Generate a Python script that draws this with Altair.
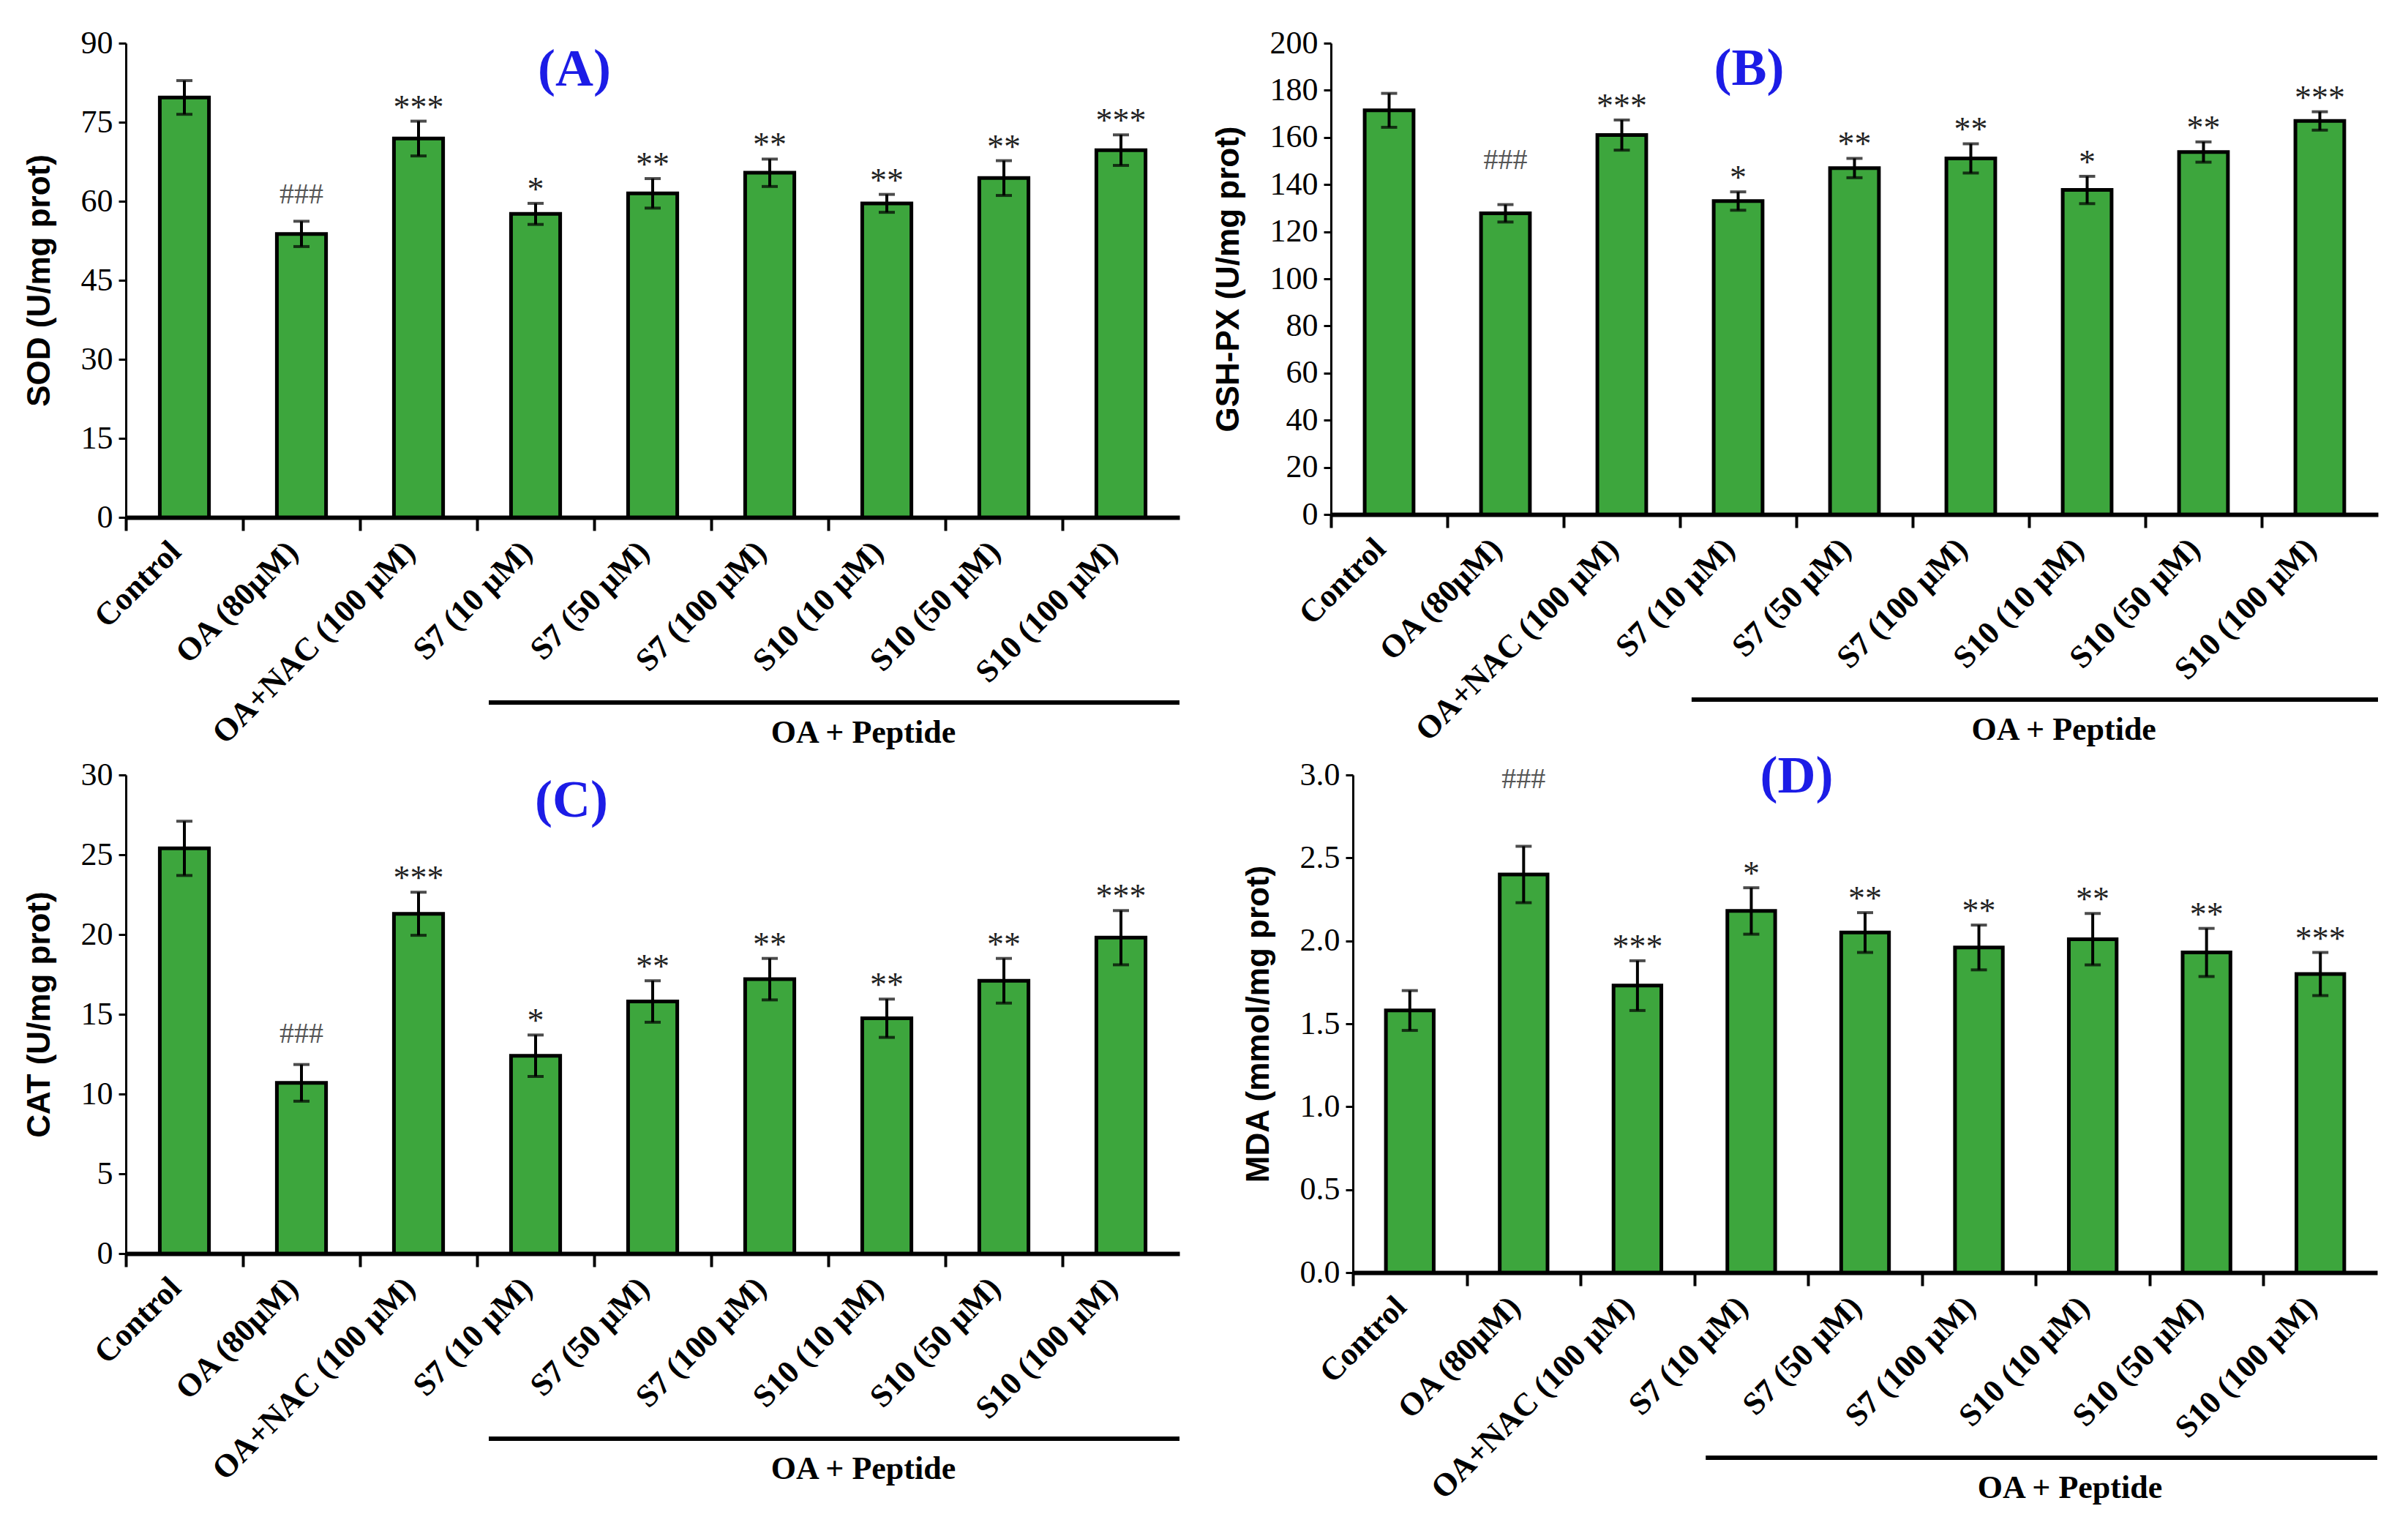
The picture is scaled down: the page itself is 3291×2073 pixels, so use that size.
import altair as alt
import pandas as pd

groups = ["Control", "OA (80µM)", "OA+NAC (100 µM)", "S7 (10 µM)", "S7 (50 µM)",
          "S7 (100 µM)", "S10 (10 µM)", "S10 (50 µM)", "S10 (100 µM)"]

sod = [79.7, 53.8, 71.9, 57.6, 61.5, 65.4, 59.6, 64.4, 69.7]
sod_err = [3.2, 2.4, 3.3, 2.0, 2.8, 2.6, 1.7, 3.3, 2.9]
sod_sig = ["", "###", "***", "*", "**", "**", "**", "**", "***"]

gsh = [171.5, 127.8, 161.0, 133.0, 147.0, 151.1, 137.7, 153.8, 167.0]
gsh_err = [7.2, 3.7, 6.4, 3.9, 4.1, 6.2, 5.8, 4.3, 3.9]
gsh_sig = ["", "###", "***", "*", "**", "**", "*", "**", "***"]

cat = [25.4, 10.7, 21.3, 12.4, 15.8, 17.2, 14.75, 17.1, 19.8]
cat_err = [1.7, 1.15, 1.35, 1.3, 1.3, 1.3, 1.2, 1.4, 1.7]
cat_sig = ["", "###", "***", "*", "**", "**", "**", "**", "***"]

mda = [1.58, 2.40, 1.73, 2.18, 2.05, 1.96, 2.01, 1.93, 1.80]
mda_err = [0.12, 0.17, 0.15, 0.14, 0.12, 0.135, 0.155, 0.145, 0.13]
mda_sig = ["", "###", "***", "*", "**", "**", "**", "**", "***"]

GREEN = "#3da63d"
SERIF = "Liberation Serif"
SANS = "Liberation Sans"


def panel(values, errs, sig, ytitle, yticks, fmt, tag, tag_y, tag_dx, hash_dy, w, h):
    step = w / len(groups)
    df = pd.DataFrame({"group": groups, "value": values, "err": errs, "sig": sig})
    df["lo"] = df["value"] - df["err"]
    df["hi"] = df["value"] + df["err"]

    # ticks sit between the bars, labels stay under the bar centres
    x = alt.X("group:N", sort=groups,
              scale=alt.Scale(paddingInner=0.58, paddingOuter=0.29),
              axis=alt.Axis(title=None, labelAngle=-45, labelAlign="right",
                            labelBaseline="middle", labelFont=SERIF,
                            labelFontWeight="bold", labelFontSize=44, labelLimit=1000,
                            labelColor="black", labelPadding=22,
                            tickOffset=-step / 2, labelOffset=step / 2 - 12,
                            ticks=True, tickSize=18, tickWidth=4,
                            tickColor="black", domainWidth=6, domainColor="black"))
    y_scale = alt.Scale(domain=[yticks[0], yticks[-1]], nice=False)
    y = alt.Y("value:Q", scale=y_scale,
              axis=alt.Axis(title=ytitle, values=yticks, format=fmt, grid=False))

    base = alt.Chart(df)
    bars = base.mark_bar(color=GREEN, stroke="black", strokeWidth=5).encode(x=x, y=y)
    err = base.mark_rule(color="black", strokeWidth=4).encode(
        x=x, y=alt.Y("lo:Q", scale=y_scale), y2="hi:Q")
    cap_hi = base.mark_tick(color="black", thickness=4, size=22).encode(
        x=x, y=alt.Y("hi:Q", scale=y_scale))
    cap_lo = base.mark_tick(color="black", thickness=4, size=22).encode(
        x=x, y=alt.Y("lo:Q", scale=y_scale))
    stars = base.transform_filter("indexof(datum.sig, '*') >= 0").mark_text(
        font=SERIF, fontSize=46, color="#222222", baseline="alphabetic", dy=-4
    ).encode(x=x, y=alt.Y("hi:Q", scale=y_scale), text="sig:N")
    hashes = base.transform_filter("indexof(datum.sig, '#') >= 0").mark_text(
        font=SERIF, fontSize=40, color="#555555", baseline="alphabetic", dy=hash_dy
    ).encode(x=x, y=alt.Y("hi:Q", scale=y_scale), text="sig:N")

    tag_df = pd.DataFrame({"group": ["S7 (10 µM)"], "v": [tag_y], "t": [tag]})
    tag_mark = alt.Chart(tag_df).mark_text(
        font=SERIF, fontSize=72, fontWeight="bold", color="#1c1ce6", dx=tag_dx
    ).encode(x=alt.X("group:N", sort=groups), y=alt.Y("v:Q", scale=y_scale), text="t:N")

    br_df = pd.DataFrame({"t": ["OA + Peptide"]})
    bracket = alt.Chart(br_df).mark_rule(color="black", strokeWidth=6).encode(
        x=alt.value(3.1 * step), x2=alt.value(w), y=alt.value(h + 253))
    br_text = alt.Chart(br_df).mark_text(
        font=SERIF, fontSize=44, fontWeight="bold", color="black"
    ).encode(x=alt.value(6.3 * step), y=alt.value(h + 295), text="t:N")

    return alt.layer(bars, err, cap_hi, cap_lo, stars, hashes, tag_mark,
                     bracket, br_text).properties(width=w, height=h)


pa = panel(sod, sod_err, sod_sig, "SOD (U/mg prot)", list(range(0, 91, 15)), "d",
           "(A)", 85, 53, -24, 1440, 648)
pb = panel(gsh, gsh_err, gsh_sig, "GSH-PX (U/mg prot)", list(range(0, 201, 20)), "d",
           "(B)", 189, 15, -49, 1431, 644)
pc = panel(cat, cat_err, cat_sig, "CAT (U/mg prot)", list(range(0, 31, 5)), "d",
           "(C)", 28.4, 49, -30, 1440, 654)
pd_ = panel(mda, mda_err, mda_sig, "MDA (mmol/mg prot)",
            [0.0, 0.5, 1.0, 1.5, 2.0, 2.5, 3.0], ".1f", "(D)", 2.99, 62, -79, 1400, 680)

chart = alt.vconcat(
    alt.hconcat(pa, pb, spacing=207, bounds="flush"),
    alt.hconcat(pc, pd_, spacing=237, bounds="flush"),
    spacing=0,
).properties(
    padding={"left": 24, "top": 29, "right": 0, "bottom": 0}
).configure_view(stroke=None).configure_axisX(
    ticks=True
).configure_axisY(
    labelFont=SERIF, labelFontSize=44, labelColor="black", labelPadding=8,
    titleFont=SANS, titleFontSize=44, titleFontWeight="bold", titleColor="black",
    titlePadding=34, domainWidth=3, domainColor="black", tickSize=10, tickWidth=3,
    tickColor="black"
)

chart.save("out.html", embed_options={"renderer": "svg", "actions": False})
